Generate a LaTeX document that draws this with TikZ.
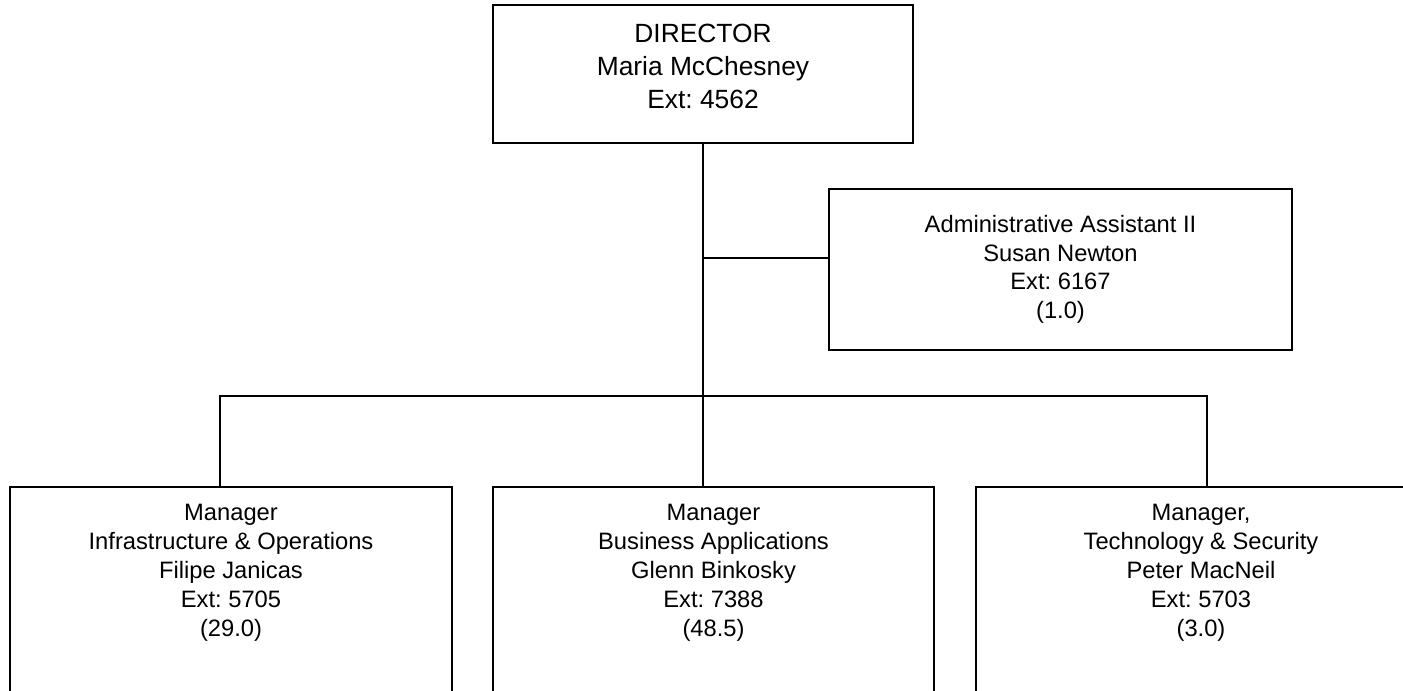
\documentclass[tikz,border=0pt]{standalone}
\usepackage{fontspec}
\setmainfont{Liberation Sans}
\frenchspacing
\usetikzlibrary{positioning}
\tikzset{box/.style = {draw, line width=0.9pt, inner sep=0pt},
         boxtext/.style = {align=center, inner sep=0pt, font=\fontsize{13.5}{16.4}\selectfont},
         toptext/.style = {boxtext, font=\fontsize{15}{18.7}\selectfont},
         link/.style = {line width=0.9pt}}

\begin{document}
\begin{tikzpicture}[x=0.02cm, y=-0.02cm]
\clip (0,0) rectangle (1403,690);
\node[box, minimum width=8.4cm, minimum height=2.76cm] (dir) at (703,74) {};
\node[toptext, below=0.4cm of dir.north] (dirtext) {DIRECTOR\\Maria McChesney\\Ext: 4562};
\node[box, minimum width=9.26cm, minimum height=3.22cm] (admin) at (1060.5,269.5) {};
\node[boxtext, below=0.53cm of admin.north] (admintext) {Administrative Assistant II\\Susan Newton\\Ext: 6167\\(1.0)};
\node[box, minimum width=8.84cm, minimum height=5.46cm] (infra) at (231,623.5) {};
\node[boxtext, below=0.36cm of infra.north] (infratext) {Manager\\Infrastructure \& Operations\\Filipe Janicas\\Ext: 5705\\(29.0)};
\node[box, minimum width=8.82cm, minimum height=5.46cm] (busapp) at (713.5,623.5) {};
\node[boxtext, below=0.36cm of busapp.north] (busapptext) {Manager\\Business Applications\\Glenn Binkosky\\Ext: 7388\\(48.5)};
\node[box, minimum width=8.84cm, minimum height=5.46cm] (techsec) at (1197,623.5) {};
\node[boxtext, below=0.36cm of techsec.north, xshift=0.08cm] (techsectext) {Manager,\\Technology \& Security\\Peter MacNeil\\Ext: 5703\\(3.0)};
% links
\coordinate (ajoin) at (703,258);
\coordinate (lbus) at (220,396);
\coordinate (rbus) at (1207,396);
\draw[link] (dir.south) -- (dir.south |- busapp.north);
\draw[link] (ajoin) -- (ajoin -| admin.west);
\draw[link] (lbus |- infra.north) -- (lbus) -- (rbus) -- (rbus |- techsec.north);
\end{tikzpicture}
\end{document}
